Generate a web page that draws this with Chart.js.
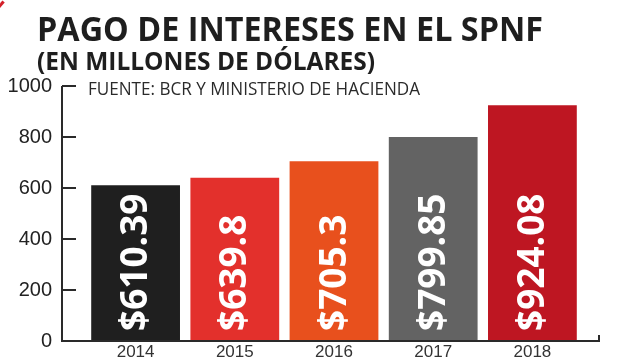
<!DOCTYPE html>
<html>
<head>
<meta charset="utf-8">
<script src="https://cdn.jsdelivr.net/npm/chart.js@4.4.1/dist/chart.umd.min.js"></script>
<style>
  html, body { margin: 0; padding: 0; background: #fff; }
  #wrap { position: relative; width: 627px; height: 360px; overflow: hidden; }
  #myChart { position: absolute; left: 0; top: 0; width: 627px; height: 360px; }
  .txt { position: absolute; white-space: nowrap; line-height: 1; color: #1e1e1e; transform-origin: 0 0; }
  #title { left: 37px; top: 5px; font: bold 34px "Open Sans", "Liberation Sans", sans-serif; }
  #subtitle { left: 37px; top: 43px; font: bold 25px "Open Sans", "Liberation Sans", sans-serif; }
  #source { left: 88px; top: 76px; font: 18px "Open Sans", "Liberation Sans", sans-serif; color: #2a2a2a; }
  #corner { position: absolute; left: -3px; top: 3px; width: 8px; height: 3px; background: #d3202a; transform: rotate(-50deg); }
</style>
</head>
<body>
<div id="wrap">
  <canvas id="myChart" width="627" height="360"></canvas>
  <div id="corner"></div>
  <div class="txt" id="title" data-w="506">PAGO DE INTERESES EN EL SPNF</div>
  <div class="txt" id="subtitle" data-w="338">(EN MILLONES DE DÓLARES)</div>
  <div class="txt" id="source" data-w="332">FUENTE: BCR Y MINISTERIO DE HACIENDA</div>
</div>
<script>
// data
let yearLabels = ["2014", "2015", "2016", "2017", "2018"];
let interestPaid = [610.39, 639.8, 705.3, 799.85, 924.08];
let valueLabels = ["$610.39", "$639.8", "$705.3", "$799.85", "$924.08"];
let barColors = ["#1f1f1f", "#e3302c", "#e8501d", "#636363", "#be1622"];
let yTicks = [0, 200, 400, 600, 800, 1000];

const axisColor = "#2a2a2a";

// squeeze headings to the condensed width of the original
document.querySelectorAll(".txt").forEach((el) => {
    const w = el.getBoundingClientRect().width;
    el.style.transform = "scaleX(" + (Number(el.dataset.w) / w) + ")";
});

// axes drawn by hand: y line with inward ticks + labels, x line with end tick + years
const axesPlugin = {
    id: "axesPlugin",
    afterDraw(chart) {
        const ctx = chart.ctx;
        const area = chart.chartArea;
        const y = chart.scales.y;
        const x = chart.scales.x;
        const left = area.left - 24;
        const bottom = y.getPixelForValue(0);
        ctx.save();
        ctx.strokeStyle = axisColor;
        ctx.lineWidth = 2;
        ctx.beginPath();
        ctx.moveTo(left, y.getPixelForValue(1000));
        ctx.lineTo(left, bottom);
        ctx.lineTo(area.right + 17, bottom);
        ctx.lineTo(area.right + 17, bottom - 6);
        yTicks.forEach((t) => {
            if (t === 0) return;
            const py = y.getPixelForValue(t);
            ctx.moveTo(left, py);
            ctx.lineTo(left + 14, py);
        });
        ctx.stroke();

        // y tick labels
        ctx.fillStyle = "#222";
        ctx.font = "20px 'Liberation Sans', Arial, sans-serif";
        ctx.textAlign = "right";
        ctx.textBaseline = "middle";
        yTicks.forEach((t) => {
            ctx.fillText(String(t), left - 10, y.getPixelForValue(t));
        });

        // year labels
        ctx.fillStyle = "#333";
        ctx.font = "17px 'Liberation Sans', Arial, sans-serif";
        ctx.textAlign = "center";
        yearLabels.forEach((lab, i) => {
            ctx.fillText(lab, x.getPixelForValue(i), bottom + 11);
        });
        ctx.restore();
    },
};

// vertical white value labels inside bars
const barLabels = {
    id: "barLabels",
    afterDatasetsDraw(chart) {
        const ctx = chart.ctx;
        const meta = chart.getDatasetMeta(0);
        ctx.save();
        ctx.fillStyle = "#ffffff";
        ctx.font = "bold 37px 'Open Sans', 'Liberation Sans', sans-serif";
        ctx.textAlign = "left";
        ctx.textBaseline = "middle";
        meta.data.forEach((bar, i) => {
            ctx.save();
            ctx.translate(bar.x + 1, bar.base - 10);
            ctx.rotate(-Math.PI / 2);
            ctx.fillText(valueLabels[i], 0, 0);
            ctx.restore();
        });
        ctx.restore();
    },
};

var ctx = document.getElementById("myChart").getContext("2d");
var chart = new Chart(ctx, {
    type: "bar",
    data: {
        labels: yearLabels,
        datasets: [
            {
                label: "Pago de intereses",
                data: interestPaid,
                backgroundColor: barColors,
                borderWidth: 0,
                barPercentage: 0.895,
                categoryPercentage: 1,
            },
        ],
    },
    options: {
        responsive: false,
        maintainAspectRatio: false,
        animation: false,
        events: [],
        layout: { padding: { top: 86, right: 45, bottom: 19, left: 86 } },
        plugins: {
            legend: { display: false },
            tooltip: { enabled: false },
        },
        scales: {
            x: { display: false },
            y: {
                min: 0,
                max: 1000,
                display: false,
                ticks: { stepSize: 200 },
            },
        },
    },
    plugins: [axesPlugin, barLabels],
});
</script>
</body>
</html>
